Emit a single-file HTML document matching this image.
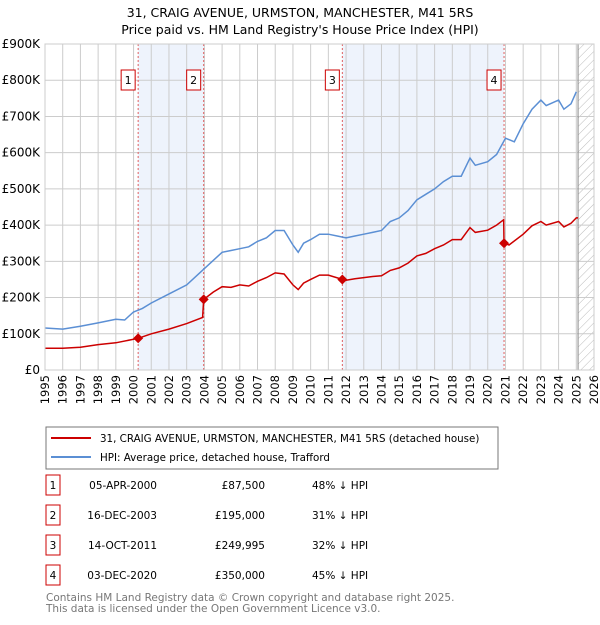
<!DOCTYPE html>
<html><head><meta charset="utf-8"><style>
body{margin:0;background:#fff;font-family:"Liberation Sans","DejaVu Sans",sans-serif;}
svg text{font-family:"DejaVu Sans","Liberation Sans",sans-serif;}
</style></head><body>
<svg id="c" width="600" height="620" xmlns="http://www.w3.org/2000/svg">
<defs><pattern id="hatch" width="6" height="6" patternUnits="userSpaceOnUse" patternTransform="rotate(45)"><line x1="0" y1="0" x2="0" y2="6" stroke="#bbb" stroke-width="1"/></pattern></defs>
<text x="300" y="17" text-anchor="middle" font-size="12.5">31, CRAIG AVENUE, URMSTON, MANCHESTER, M41 5RS</text>
<text x="300" y="34" text-anchor="middle" font-size="12.5">Price paid vs. HM Land Registry's House Price Index (HPI)</text>
<g id="plot"></g>
<g>
<rect x="46" y="427" width="452" height="42" fill="#fff" stroke="#777"/>
<line x1="51" y1="438" x2="91" y2="438" stroke="#cc0000" stroke-width="2"/>
<text x="100" y="442" font-size="10.3">31, CRAIG AVENUE, URMSTON, MANCHESTER, M41 5RS (detached house)</text>
<line x1="51" y1="457" x2="91" y2="457" stroke="#5b8fd4" stroke-width="2"/>
<text x="100" y="461" font-size="10.3">HPI: Average price, detached house, Trafford</text>
</g>
<g id="table"></g>
<text x="46" y="601" font-size="10.5" fill="#777">Contains HM Land Registry data © Crown copyright and database right 2025.</text>
<text x="46" y="612" font-size="10.5" fill="#777">This data is licensed under the Open Government Licence v3.0.</text>
</svg>
<script>
const hpiYears=[1995,1996,1997,1998,1999,1999.5,2000,2000.5,2001,2002,2003,2004,2005,2005.5,2006,2006.5,2007,2007.5,2008,2008.5,2009,2009.3,2009.6,2010,2010.5,2011,2011.5,2012,2012.5,2013,2013.5,2014,2014.5,2015,2015.5,2016,2016.5,2017,2017.5,2018,2018.5,2019,2019.3,2020,2020.5,2021,2021.5,2022,2022.5,2023,2023.3,2024,2024.3,2024.7,2025];
const hpiValues=[116,113,121,130,140,138,160,170,185,210,235,280,325,330,335,340,355,365,385,385,345,325,350,360,375,375,370,365,370,375,380,385,410,420,440,470,485,500,520,535,535,585,565,575,595,640,630,680,720,745,730,745,720,735,768];
const redYears=[1995,1996,1997,1998,1999,2000.26,2001,2002,2003,2003.9,2003.96,2004.5,2005,2005.5,2006,2006.5,2007,2007.5,2008,2008.5,2009,2009.3,2009.6,2010,2010.5,2011,2011.79,2012,2012.5,2013,2013.5,2014,2014.5,2015,2015.5,2016,2016.5,2017,2017.5,2018,2018.5,2019,2019.3,2020,2020.5,2020.9,2020.92,2021.2,2022,2022.5,2023,2023.3,2024,2024.3,2024.7,2025,2025.1];
const redValues=[60,60,63,70,75,87.5,100,113,128,145,195,215,230,228,235,232,245,255,268,265,235,222,240,250,262,262,250,248,252,255,258,260,275,282,295,315,322,335,345,360,360,393,380,386,400,415,350,345,375,398,410,400,410,395,405,420,420];
const saleLabels=["1","2","3","4"];
const saleYears=[2000.26,2003.96,2011.79,2020.92];
const salePrices=[87.5,195,249.995,350];
const saleDates=["05-APR-2000","16-DEC-2003","14-OCT-2011","03-DEC-2020"];
const salePriceText=["£87,500","£195,000","£249,995","£350,000"];
const saleHpiText=["48% ↓ HPI","31% ↓ HPI","32% ↓ HPI","45% ↓ HPI"];
const yTicks=[0,100,200,300,400,500,600,700,800,900];
const yTickLabels=["£0","£100K","£200K","£300K","£400K","£500K","£600K","£700K","£800K","£900K"];
const xTicks=[1995,1996,1997,1998,1999,2000,2001,2002,2003,2004,2005,2006,2007,2008,2009,2010,2011,2012,2013,2014,2015,2016,2017,2018,2019,2020,2021,2022,2023,2024,2025,2026];

const X0=45,X1=594,Y0=370,Y1=44;
const xS=y=>X0+(y-1995)/(2026-1995)*(X1-X0);
const yS=v=>Y0-v/900*(Y0-Y1);
const NS="http://www.w3.org/2000/svg";
const plot=document.getElementById('plot');
function mk(tag,attrs,parent){const e=document.createElementNS(NS,tag);for(const k in attrs)e.setAttribute(k,attrs[k]);(parent||plot).appendChild(e);return e;}

let r=mk('rect',{x:X0,y:Y1,width:X1-X0,height:Y0-Y1,fill:'#fff'});


for(let i=0;i<saleYears.length;i+=2){
  const s=mk('rect',{x:xS(saleYears[i]),y:Y1,width:xS(saleYears[i+1])-xS(saleYears[i]),height:Y0-Y1,fill:'#eef3fc'});
  
  
}
const h=mk('rect',{x:xS(2025.1),y:Y1,width:X1-xS(2025.1),height:Y0-Y1,fill:'url(#hatch)'});


xTicks.forEach((t,i)=>{
  const l=mk('line',{x1:xS(t),x2:xS(t),y1:Y1,y2:Y0,stroke:'#ccc','stroke-width':1});
  
  
  const tx=mk('text',{x:0,y:0,'font-size':11.5,'text-anchor':'end',transform:`translate(${xS(t)+4},${Y0+5}) rotate(-90)`});
  tx.textContent=t;
  
  
});
yTicks.forEach((t,i)=>{
  const l=mk('line',{x1:X0,x2:X1,y1:yS(t),y2:yS(t),stroke:'#ccc','stroke-width':1});
  
  
  const tx=mk('text',{x:X0-5,y:yS(t)+4,'font-size':12,'text-anchor':'end'});
  tx.textContent=yTickLabels[i];
  
  
});
mk('line',{x1:xS(2025.1),x2:xS(2025.1),y1:Y1,y2:Y0,stroke:'#888','stroke-width':1});
saleYears.forEach((y,i)=>{
  const l=mk('line',{x1:xS(y),x2:xS(y),y1:Y1,y2:Y0,stroke:'#e06060','stroke-width':1,'stroke-dasharray':'2,2'});
  
  
});
function pathOf(xs,vs){return xs.map((x,i)=>(i?'L':'M')+xS(x).toFixed(1)+','+yS(vs[i]).toFixed(1)).join('');}
const hp=mk('path',{d:pathOf(hpiYears,hpiValues),fill:'none',stroke:'#5b8fd4','stroke-width':1.5});


const rp=mk('path',{d:pathOf(redYears,redValues),fill:'none',stroke:'#cc0000','stroke-width':1.5});


saleYears.forEach((y,i)=>{
  const cx=xS(y),cy=yS(salePrices[i]);
  const d=mk('path',{d:`M${cx},${cy-5}L${cx+5},${cy}L${cx},${cy+5}L${cx-5},${cy}Z`,fill:'#cc0000'});
  
  
  const b=mk('rect',{x:cx-17,y:70,width:14,height:20,fill:'#fff',stroke:'#cc0000'});
  
  
  const t=mk('text',{x:cx-10,y:84,'font-size':11,'text-anchor':'middle'});
  t.textContent=saleLabels[i];
  
  
});
mk('rect',{x:X0,y:Y1,width:X1-X0,height:Y0-Y1,fill:'none',stroke:'#ccc'});
const tb=document.getElementById('table');
saleLabels.forEach((s,i)=>{
  const y=485+i*30;
  const b=mk('rect',{x:46,y:y-10,width:14,height:20,fill:'#fff',stroke:'#cc0000'},tb);
  
  
  const cells=[[53,'middle',s],[157,'end',saleDates[i]],[265,'end',salePriceText[i]],[312,'start',saleHpiText[i]]];
  cells.forEach(c=>{
    const t=mk('text',{x:c[0],y:y+4,'font-size':10.5,'text-anchor':c[1]},tb);
    t.textContent=c[2];
    
    
  });
});
</script>
</body></html>
